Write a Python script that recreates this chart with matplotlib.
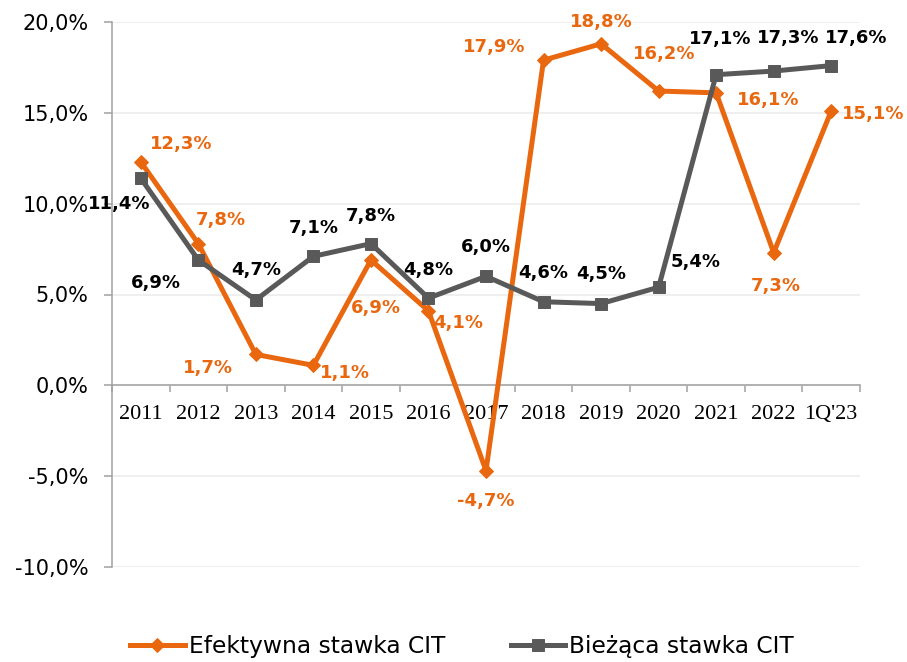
import numpy as np
import matplotlib
matplotlib.use("Agg")
import matplotlib.pyplot as plt

# data
years = ["2011", "2012", "2013", "2014", "2015", "2016", "2017",
         "2018", "2019", "2020", "2021", "2022", "1Q'23"]
efektywna = [12.3, 7.8, 1.7, 1.1, 6.9, 4.1, -4.7, 17.9, 18.8, 16.2, 16.1, 7.3, 15.1]
biezaca = [11.4, 6.9, 4.7, 7.1, 7.8, 4.8, 6.0, 4.6, 4.5, 5.4, 17.1, 17.3, 17.6]
yticks = [-10, -5, 0, 5, 10, 15, 20]

# label offsets in pixels (dx, dy), as placed in the original
off_ef = [(40, 18), (23, 24), (-48, -14), (32, -8), (5, -48), (30, -12), (0, -30),
          (-49, 13), (0, 22), (6, 37), (52, -7), (2, -33), (42, -3)]
off_bz = [(-22, -26), (-42, -23), (0, 30), (0, 28), (0, 28), (0, 28), (0, 29),
          (0, 29), (0, 30), (37, 25), (4, 36), (14, 33), (25, 28)]

ORANGE = "#E9670F"
GRAY = "#595959"
AXIS = "#A0A0A0"

fig = plt.figure(figsize=(9.07, 6.62), dpi=100)
ax = fig.add_axes([112 / 907, 1 - 567 / 662, 748 / 907, 545 / 662])

x = np.arange(len(years))
l1, = ax.plot(x, efektywna, color=ORANGE, lw=3.6, marker="D", ms=7.2,
              mec=ORANGE, mew=0.7, solid_joinstyle="round", zorder=3)
l2, = ax.plot(x, biezaca, color=GRAY, lw=3.6, marker="s", ms=9,
              mec=GRAY, mew=0.7, solid_joinstyle="round", zorder=4)

def fmt(v):
    return f"{v:.1f}%".replace(".", ",")

for xi, v, o in zip(x, efektywna, off_ef):
    ax.annotate(fmt(v), (xi, v), xytext=o, textcoords="offset pixels",
                ha="center", va="center", color=ORANGE, fontsize=13,
                fontweight="bold", zorder=5)
for xi, v, o in zip(x, biezaca, off_bz):
    ax.annotate(fmt(v), (xi, v), xytext=o, textcoords="offset pixels",
                ha="center", va="center", color="black", fontsize=13,
                fontweight="bold", zorder=5)

ax.set_xlim(-0.5, len(years) - 0.5)
ax.set_ylim(-10, 20)
ax.set_yticks(yticks)
ax.set_yticklabels([fmt(v) for v in yticks], fontsize=15)
ax.tick_params(axis="y", length=6, width=1.1, color=AXIS, pad=11)
ax.yaxis.grid(True, color="#EEEEEE", lw=1.3, zorder=0)
ax.set_axisbelow(True)

# category boundaries carry the tick marks, centres carry the labels
ax.set_xticks(np.arange(-0.5, len(years), 1.0), labels=[])
ax.set_xticks(x, labels=years, minor=True)
ax.tick_params(axis="x", which="major", length=5, width=1.1, color=AXIS, direction="out")
ax.tick_params(axis="x", which="minor", length=0, pad=14, labelsize=16,
               labelfontfamily="Liberation Serif")

for s in ["top", "right"]:
    ax.spines[s].set_visible(False)
ax.spines["bottom"].set_position(("data", 0))
ax.spines["bottom"].set_color(AXIS)
ax.spines["left"].set_color(AXIS)
ax.spines["bottom"].set_linewidth(1.1)
ax.spines["left"].set_linewidth(1.1)
ax.spines["bottom"].set_zorder(2)

fig.legend([l1, l2], ["Efektywna stawka CIT", "Bieżąca stawka CIT"],
           loc="center left", bbox_to_anchor=(130 / 907, 1 - 647 / 662),
           ncol=2, frameon=False, fontsize=16.8, borderpad=0, borderaxespad=0,
           handlelength=2.35, handletextpad=0.17, columnspacing=2.8)

fig.savefig("out.png", dpi=100)
